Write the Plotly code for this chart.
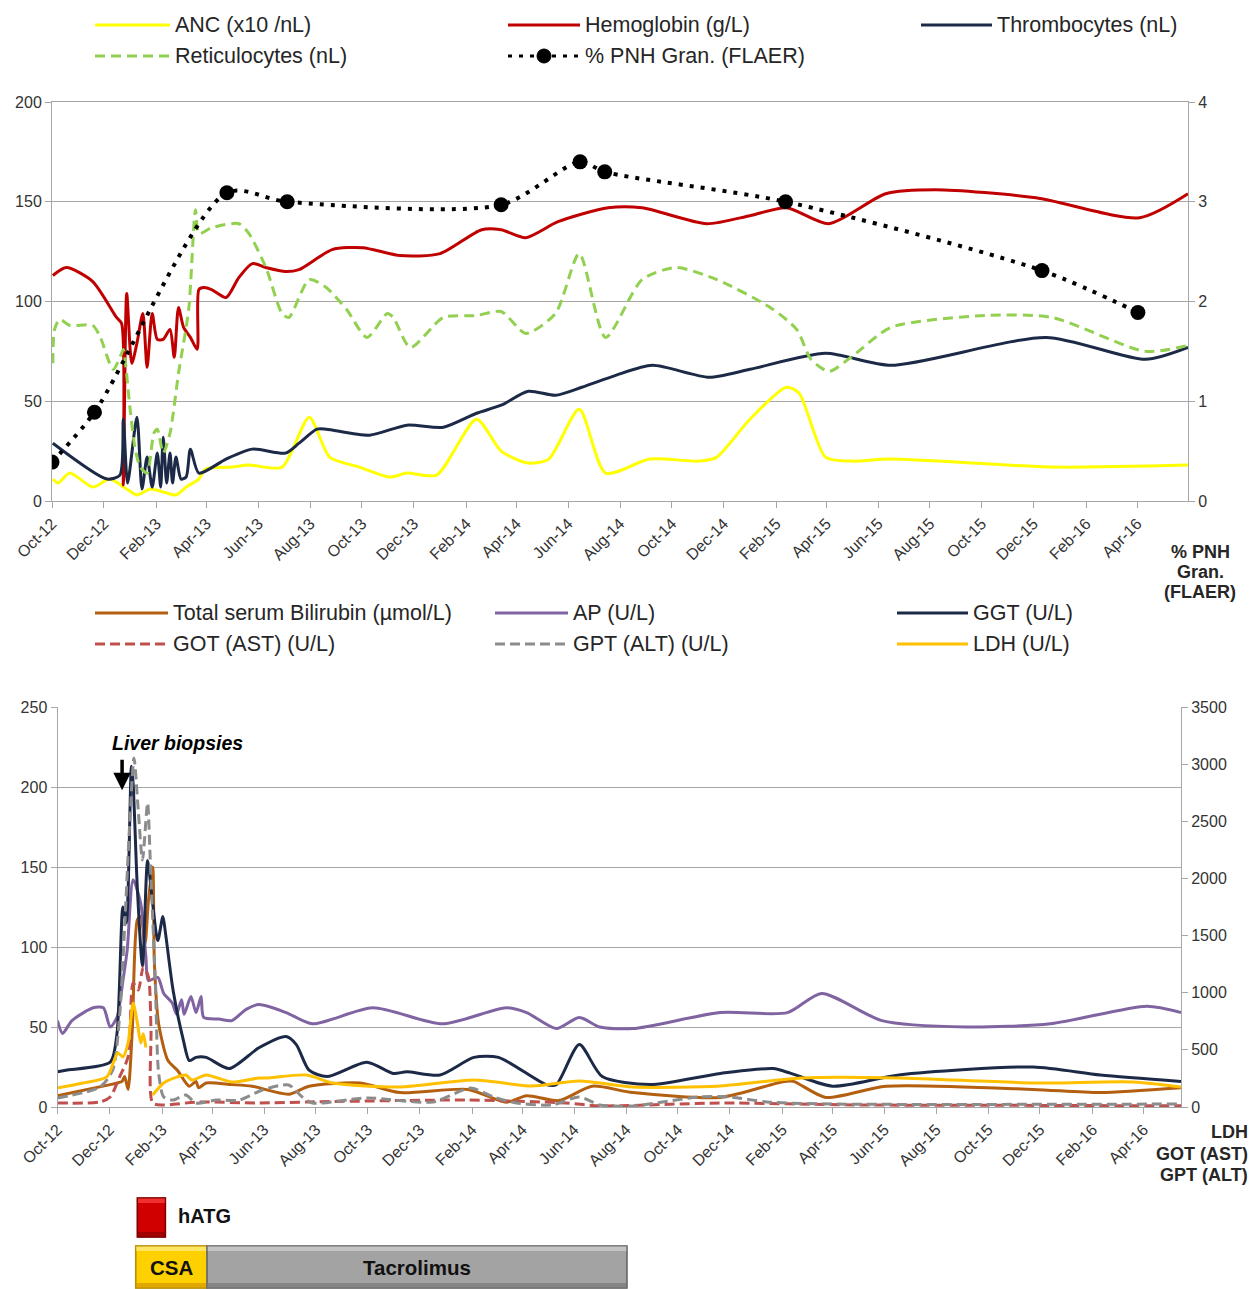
import plotly.graph_objects as go
import pandas as pd

W, H = 1253, 1289

# ---------------- TOP CHART DATA ----------------
top_names = ["ANC (x10 /nL)", "Hemoglobin (g/L)", "Thrombocytes (nL)",
             "Reticulocytes (nL)", "% PNH Gran. (FLAER)"]

anc_dates = ['2012-10-02','2012-10-08','2012-10-22','2012-11-18','2012-12-08','2012-12-28','2013-01-09','2013-01-25',
             '2013-02-13','2013-02-24','2013-03-08','2013-03-23','2013-03-31','2013-05-01','2013-05-21','2013-06-29',
             '2013-07-31','2013-08-24','2013-09-28','2013-11-03','2013-11-23','2013-12-28','2014-02-13','2014-03-14',
             '2014-04-15','2014-05-09','2014-06-14','2014-07-15','2014-09-05','2014-11-03','2014-11-23','2015-01-01',
             '2015-02-13','2015-02-28','2015-03-31','2015-04-30','2015-06-16','2015-12-23','2016-05-31']
anc_vals = [11,9,14,7,11,6,3,6,4,3,7,11,16,17,18,17,42,22,17,12,14,13,41,25,19,21,46,14,21,20,22,41,57,54,22,20,21,17,18]

hb_dates = ['2012-10-02','2012-10-18','2012-11-18','2012-12-16','2012-12-22','2012-12-24','2012-12-28','2013-01-03',
            '2013-01-09','2013-01-16','2013-01-21','2013-01-27','2013-02-02','2013-02-09','2013-02-17','2013-02-22',
            '2013-02-27','2013-03-05','2013-03-13','2013-03-21','2013-03-23','2013-03-29','2013-04-07','2013-04-24',
            '2013-05-09','2013-05-25','2013-06-10','2013-07-03','2013-07-19','2013-08-27','2013-10-02','2013-11-15',
            '2014-01-01','2014-02-19','2014-03-14','2014-04-12','2014-05-20','2014-07-18','2014-08-27','2014-11-11',
            '2015-01-01','2015-02-13','2015-04-04','2015-06-10','2015-08-08','2015-12-04','2016-04-04','2016-05-31']
hb_vals = [113,117,110,92,89,8,104,69,79,94,67,94,81,81,86,72,97,87,82,76,106,107,106,102,112,119,117,115,116,126,
           127,123,124,136,136,132,140,147,147,139,143,147,139,154,156,152,142,154]

thr_dates = ['2012-10-02','2012-12-05','2012-12-20','2012-12-24','2012-12-29','2013-01-09','2013-01-15','2013-01-21',
             '2013-01-27','2013-02-02','2013-02-06','2013-02-09','2013-02-13','2013-02-17','2013-02-20','2013-02-24',
             '2013-03-02','2013-03-08','2013-03-13','2013-03-23','2013-04-24','2013-05-25','2013-07-03','2013-07-19',
             '2013-08-09','2013-08-20','2013-10-10','2013-11-23','2014-01-05','2014-02-13','2014-03-14','2014-04-15',
             '2014-05-17','2014-06-17','2014-07-27','2014-09-08','2014-11-14','2015-01-01','2015-03-31','2015-06-16',
             '2015-12-16','2016-04-11','2016-05-31']
thr_vals = [29,11,13,41,9,42,6,22,7,24,7,32,9,24,9,22,11,12,26,14,21,26,24,29,36,36,33,38,37,44,48,55,53,57,63,68,
            62,66,74,68,82,71,77]

ret_dates = ['2012-10-02','2012-10-04','2012-10-10','2012-10-22','2012-11-18','2012-11-27','2012-12-12','2012-12-22',
             '2012-12-24','2013-01-01','2013-01-07','2013-01-13','2013-01-21','2013-01-29','2013-02-02','2013-02-09',
             '2013-02-17','2013-02-27','2013-03-11','2013-03-19','2013-03-23','2013-04-07','2013-05-09','2013-05-21',
             '2013-06-10','2013-06-29','2013-07-07','2013-07-31','2013-08-20','2013-09-13','2013-10-07','2013-10-31',
             '2013-11-07','2013-11-27','2014-01-05','2014-02-13','2014-03-14','2014-04-12','2014-05-17','2014-06-14',
             '2014-07-15','2014-08-27','2014-10-06','2014-11-23','2015-01-25','2015-02-25','2015-03-14','2015-04-04',
             '2015-04-30','2015-06-16','2015-10-06','2015-12-23','2016-04-11','2016-05-31']
ret_vals = [69,86,91,88,88,82,66,74,76,46,26,17,14,34,36,24,34,64,96,146,134,137,139,134,117,94,92,111,107,96,
            82,94,92,77,92,93,95,84,94,124,82,111,117,111,97,86,71,65,72,87,93,92,75,78]

pnh_dates = ['2012-10-01','2012-11-20','2013-04-25','2013-07-05','2014-03-14','2014-06-15','2014-07-14',
             '2015-02-12','2015-12-11','2016-04-02']
pnh_vals = [0.39,0.89,3.09,3.0,2.97,3.4,3.3,3.0,2.31,1.89]

# ---------------- BOTTOM CHART DATA ----------------
bot_names = ["Total serum Bilirubin (µmol/L)", "AP (U/L)", "GGT (U/L)",
             "GOT (AST) (U/L)", "GPT (ALT) (U/L)", "LDH (U/L)"]

bili_dates = ['2012-10-01','2012-12-02','2012-12-10','2012-12-16','2012-12-19','2012-12-23','2012-12-28','2013-01-03',
              '2013-01-07','2013-01-12','2013-01-16','2013-01-21','2013-01-23','2013-01-28','2013-02-08','2013-02-19',
              '2013-03-05','2013-03-13','2013-03-16','2013-03-25','2013-04-24','2013-05-18','2013-06-30','2013-07-24',
              '2013-09-22','2013-11-08','2014-01-27','2014-03-13','2014-04-06','2014-05-14','2014-06-22','2014-08-09',
              '2014-11-20','2015-02-03','2015-02-14','2015-03-24','2015-06-03','2015-11-23','2016-02-10','2016-05-15']
bili_vals = [7,14,15,16,19,11,48,117,119,102,129,150,90,52,29,23,13,16,12,15,14,13,8,13,15,9,11,3,7,4,
             13,9,6,16,16,6,13,11,9,12]

ap_dates = ['2012-10-01','2012-10-07','2012-10-18','2012-11-12','2012-11-24','2012-12-02','2012-12-10','2012-12-17',
            '2012-12-22','2012-12-29','2013-01-07','2013-01-13','2013-01-16','2013-01-27','2013-02-03','2013-02-13',
            '2013-02-18','2013-02-24','2013-02-27','2013-03-07','2013-03-13','2013-03-19','2013-03-22','2013-04-09',
            '2013-04-24','2013-05-11','2013-05-26','2013-06-27','2013-07-28','2013-10-07','2013-12-28','2014-03-13',
            '2014-04-06','2014-05-11','2014-06-07','2014-07-01','2014-08-09','2014-11-20','2015-02-07','2015-03-19',
            '2015-05-29','2015-09-06','2015-12-13','2016-04-05','2016-05-15']
ap_vals = [54,46,54,62,62,50,56,79,98,142,127,94,79,81,71,65,58,67,58,69,59,69,56,55,54,61,64,59,52,62,
           52,62,59,49,56,50,49,59,59,71,54,50,52,63,59]

ggt_dates = ['2012-10-01','2012-10-11','2012-12-02','2012-12-10','2012-12-17','2012-12-21','2012-12-27','2012-12-29',
             '2013-01-03','2013-01-09','2013-01-15','2013-01-21','2013-01-27','2013-02-02','2013-02-05','2013-02-14',
             '2013-02-26','2013-03-05','2013-03-13','2013-03-25','2013-04-21','2013-05-26','2013-06-27','2013-07-09',
             '2013-07-24','2013-08-14','2013-09-30','2013-10-31','2013-11-16','2013-12-25','2014-02-03','2014-03-04',
             '2014-04-29','2014-05-11','2014-06-07','2014-07-04','2014-08-29','2014-11-20','2015-01-21','2015-02-11',
             '2015-04-01','2015-06-18','2015-11-23','2016-02-10','2016-05-15']
ggt_vals = [22,23,28,46,125,115,213,202,136,88,154,127,104,119,109,73,42,29,31,31,24,37,44,39,23,19,28,21,22,20,
            31,31,14,14,39,19,14,21,24,21,13,20,25,20,16]

got_dates = ['2012-10-01','2012-11-20','2012-12-02','2012-12-13','2012-12-23','2012-12-29','2013-01-04','2013-01-10',
             '2013-01-16','2013-01-19','2013-01-21','2013-02-03','2013-03-16','2013-05-26','2013-07-24','2014-01-27',
             '2014-05-22','2014-07-01','2014-11-20','2015-04-26','2015-10-15','2016-05-15']
got_vals = [35,44,88,263,438,1085,1024,1225,1138,674,35,18,44,35,44,61,35,10,35,18,15,10]

gpt_dates = ['2012-10-01','2012-11-20','2012-12-05','2012-12-13','2012-12-19','2012-12-25','2012-12-30','2013-01-04',
             '2013-01-09','2013-01-15','2013-01-18','2013-01-24','2013-01-28','2013-02-03','2013-02-14','2013-03-01',
             '2013-03-13','2013-04-06','2013-05-03','2013-05-30','2013-06-30','2013-07-16','2013-07-28','2013-09-30',
             '2013-12-17','2014-01-30','2014-02-26','2014-03-25','2014-05-06','2014-06-07','2014-07-01','2014-08-09',
             '2014-10-26','2014-12-01','2015-01-14','2015-04-01','2016-05-15']
gpt_vals = [79,175,324,788,1575,2485,3054,2599,2161,2660,2188,1111,298,88,61,105,35,61,61,149,193,88,35,79,44,
            166,88,35,18,88,18,9,88,88,44,26,26]

ldh_dates = ['2012-10-01','2012-10-31','2012-11-28','2012-12-11','2012-12-17','2012-12-23','2012-12-29','2013-01-03',
             '2013-01-07','2013-01-10','2013-01-13','2013-01-17','2013-01-21','2013-02-03','2013-02-19','2013-03-01',
             '2013-03-08','2013-03-25','2013-04-24','2013-05-26','2013-06-04','2013-07-21','2013-08-21','2013-11-08',
             '2014-02-03','2014-04-12','2014-06-07','2014-08-09','2014-11-20','2015-02-23','2015-06-18','2015-11-23',
             '2016-03-19','2016-05-15']
ldh_vals = [166,210,263,473,438,560,910,735,560,640,520,None,105,210,263,280,236,280,219,254,254,280,210,175,
            236,184,228,175,184,254,254,210,219,175]

# treatments
treat_names = ['CSA', 'Tacrolimus']
treat_start = ['2013-01-01', '2013-03-26']
treat_end = ['2013-03-26', '2014-08-02']
hatg_name = 'hATG'
hatg_start, hatg_end = '2013-01-03', '2013-02-05'
biopsy_date, biopsy_val = '2012-12-16', 198

# ---------------- STYLE ----------------
C_ANC = '#FFFF00'; C_HB = '#C00000'; C_NAVY = '#1C2A47'; C_RET = '#92D050'; C_PNH = '#000000'
C_BILI = '#B45F10'; C_AP = '#8064A2'; C_GOT = '#C0504D'; C_GPT = '#8C8C8C'; C_LDH = '#FFC000'
GRID = '#A6A6A6'
FONT = 'Liberation Sans, Arial, sans-serif'
TXT = '#262626'
tickfont = dict(family=FONT, size=16, color='#333333')

fig = go.Figure()

def add(x, y, color, xa, ya, dash='solid', width=3, name=None):
    fig.add_trace(go.Scatter(x=x, y=y, mode='lines', name=name, xaxis=xa, yaxis=ya, showlegend=False,
                             connectgaps=False,
                             line=dict(color=color, width=width, dash=dash, shape='spline', smoothing=0.7)))

add(anc_dates, anc_vals, C_ANC, 'x', 'y', name=top_names[0])
add(hb_dates, hb_vals, C_HB, 'x', 'y', name=top_names[1])
add(thr_dates, thr_vals, C_NAVY, 'x', 'y', name=top_names[2])
add(ret_dates, ret_vals, C_RET, 'x', 'y', dash='10px,6px', name=top_names[3])
fig.add_trace(go.Scatter(x=pnh_dates, y=pnh_vals, mode='lines+markers', name=top_names[4], xaxis='x', yaxis='y2',
                         showlegend=False,
                         line=dict(color=C_PNH, width=4, dash='4px,7px', shape='spline', smoothing=0.8),
                         marker=dict(size=15, color=C_PNH)))

add(bili_dates, bili_vals, C_BILI, 'x2', 'y3', name=bot_names[0])
add(ap_dates, ap_vals, C_AP, 'x2', 'y3', name=bot_names[1])
add(ggt_dates, ggt_vals, C_NAVY, 'x2', 'y3', name=bot_names[2])
add(got_dates, got_vals, C_GOT, 'x2', 'y4', dash='10px,5px', name=bot_names[3])
add(gpt_dates, gpt_vals, C_GPT, 'x2', 'y4', dash='10px,5px', name=bot_names[4])
add(ldh_dates, ldh_vals, C_LDH, 'x2', 'y4', name=bot_names[5])

def xaxis(dom, anchor, rng, mirror=False):
    return dict(domain=dom, anchor=anchor, type='date', range=rng, tick0='2012-10-01', dtick='M2',
                tickformat='%b-%y', tickangle=-45, ticks='outside', ticklen=6, tickcolor=GRID,
                showline=True, linecolor=GRID, linewidth=1, showgrid=False, zeroline=False, tickfont=tickfont,
                automargin=False, mirror=mirror)

def yaxis(dom, anchor, rng, dt, grid, side='left', overlay=None):
    d = dict(anchor=anchor, range=rng, dtick=dt, ticks='outside', ticklen=6, tickcolor=GRID,
             showline=True, linecolor=GRID, linewidth=1, showgrid=grid, gridcolor=GRID, gridwidth=1,
             zeroline=False, tickfont=tickfont, side=side, automargin=False)
    if overlay:
        d['overlaying'] = overlay
    else:
        d['domain'] = dom
    return d

fig.update_layout(
    width=W, height=H, margin=dict(l=0, r=0, t=0, b=0, autoexpand=False),
    paper_bgcolor='white', plot_bgcolor='white', hovermode=False,
    xaxis=xaxis([52/W, 1188/W], 'y', ['2012-10-01', '2016-05-31'], mirror=True),
    yaxis=yaxis([1-501/H, 1-102/H], 'x', [0, 200], 50, True),
    yaxis2=yaxis(None, 'x', [0, 4], 1, False, side='right', overlay='y'),
    xaxis2=xaxis([57.5/W, 1181/W], 'y3', ['2012-10-01', '2016-05-15']),
    yaxis3=yaxis([1-1107/H, 1-707/H], 'x2', [0, 250], 50, True),
    yaxis4=yaxis(None, 'x2', [0, 3500], 500, False, side='right', overlay='y3'),
)

shapes = []
annotations = []

def P(xpx, ypx):
    return xpx / W, 1 - ypx / H

def legend_item(x0, x1, ypx, color, dash, text, marker=False):
    a, b = P(x0, ypx)
    c, _ = P(x1, ypx)
    shapes.append(dict(type='line', xref='paper', yref='paper', x0=a, x1=c, y0=b, y1=b,
                       line=dict(color=color, width=3, dash=dash)))
    if marker:
        m = (x0 + x1) / 2
        p0 = P(m - 7, ypx + 7); p1 = P(m + 7, ypx - 7)
        shapes.append(dict(type='circle', xref='paper', yref='paper', x0=p0[0], y0=p0[1], x1=p1[0], y1=p1[1],
                           fillcolor=color, line=dict(color=color, width=1)))
    annotations.append(dict(xref='paper', yref='paper', x=c + 3 / W, y=b, xanchor='left', yanchor='middle',
                            text=text, showarrow=False, font=dict(family=FONT, size=21.5, color=TXT)))

# top legend
legend_item(95, 170, 25, C_ANC, 'solid', top_names[0])
legend_item(508, 580, 25, C_HB, 'solid', top_names[1])
legend_item(921, 992, 25, C_NAVY, 'solid', top_names[2])
legend_item(95, 170, 56, C_RET, '10px,6px', top_names[3])
legend_item(508, 580, 56, C_PNH, '4px,7px', top_names[4], marker=True)
# bottom legend
legend_item(95, 168, 613, C_BILI, 'solid', bot_names[0])
legend_item(495, 568, 613, C_AP, 'solid', bot_names[1])
legend_item(897, 968, 613, C_NAVY, 'solid', bot_names[2])
legend_item(95, 168, 644, C_GOT, '10px,5px', bot_names[3])
legend_item(495, 568, 644, C_GPT, '10px,5px', bot_names[4])
legend_item(897, 968, 644, C_LDH, 'solid', bot_names[5])

# right axis titles
for i, t in enumerate(['% PNH', 'Gran.', '(FLAER)']):
    x, y = P(1200, 552 + 20 * i)
    annotations.append(dict(xref='paper', yref='paper', x=x, y=y, xanchor='center', yanchor='middle',
                            text='<b>%s</b>' % t, showarrow=False, font=dict(family=FONT, size=18, color=TXT)))
for i, t in enumerate(['LDH', 'GOT (AST)', 'GPT (ALT)']):
    x, y = P(1250, 1132 + 21.5 * i)
    annotations.append(dict(xref='paper', yref='paper', x=x, y=y, xanchor='right', yanchor='middle',
                            text='<b>%s</b>' % t, showarrow=False, font=dict(family=FONT, size=18, color=TXT)))

# liver biopsies
annotations.append(dict(xref='paper', yref='paper', x=110 / W, y=1 - 743 / H, xanchor='left', yanchor='middle',
                        text='<b><i>Liver biopsies</i></b>', showarrow=False,
                        font=dict(family=FONT, size=19.5, color='#000000')))
annotations.append(dict(xref='x2', yref='y3', x=biopsy_date, y=biopsy_val, text='', showarrow=True,
                        ax=0, ay=-32, arrowhead=2, arrowsize=1, arrowwidth=3.5, arrowcolor='#000000'))

# treatment bars (with a simple bevel look)
def bevel_bar(x0, x1, ytop_px, ybot_px, base, light, dark, edge):
    y0, y1 = 1 - ybot_px / H, 1 - ytop_px / H
    shapes.append(dict(type='rect', xref='x2', yref='paper', x0=x0, x1=x1, y0=y0, y1=y1,
                       fillcolor=base, line=dict(color=edge, width=1.5), layer='above'))
    shapes.append(dict(type='rect', xref='x2', yref='paper', x0=x0, x1=x1, y0=1 - (ytop_px + 5) / H, y1=y1,
                       fillcolor=light, line=dict(width=0), layer='above'))
    shapes.append(dict(type='rect', xref='x2', yref='paper', x0=x0, x1=x1, y0=y0, y1=1 - (ybot_px - 5) / H,
                       fillcolor=dark, line=dict(width=0), layer='above'))
    shapes.append(dict(type='rect', xref='x2', yref='paper', x0=x0, x1=x1, y0=y0, y1=y1,
                       fillcolor='rgba(0,0,0,0)', line=dict(color=edge, width=1.2), layer='above'))
    return (y0 + y1) / 2

styles = [('#FFD000', '#FFE566', '#E0A800', '#B89000'), ('#A3A3A3', '#C4C4C4', '#858585', '#6E6E6E')]
for n, s, e, st in zip(treat_names, treat_start, treat_end, styles):
    ym = bevel_bar(s, e, 1246, 1288, *st)
    mid = pd.Timestamp(s) + (pd.Timestamp(e) - pd.Timestamp(s)) / 2
    annotations.append(dict(xref='x2', yref='paper', x=mid.strftime('%Y-%m-%d %H:%M'), y=ym,
                            text='<b>%s</b>' % n, showarrow=False, xanchor='center', yanchor='middle',
                            font=dict(family=FONT, size=20.5, color='#111111')))
bevel_bar(hatg_start, hatg_end, 1198, 1237, '#D00000', '#F03030', '#A00000', '#800000')
annotations.append(dict(xref='paper', yref='paper', x=176 / W, y=1 - 1216 / H, xanchor='left', yanchor='middle',
                        text='<b>%s</b>' % hatg_name, showarrow=False, font=dict(family=FONT, size=20, color='#111111')))

fig.update_layout(shapes=shapes, annotations=annotations)
fig.write_html('out.html', config={'displayModeBar': False, 'staticPlot': True},
               post_script="document.body.style.margin='0';document.body.style.overflow='hidden';")
